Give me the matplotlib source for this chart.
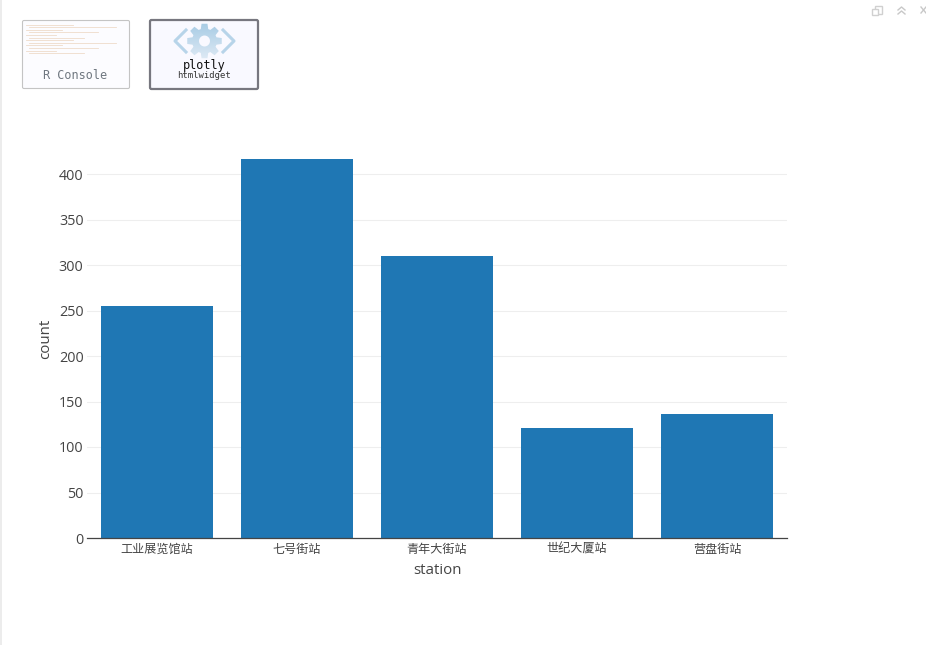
import numpy as np
import matplotlib
matplotlib.use('Agg')
import matplotlib.pyplot as plt
from matplotlib.patches import FancyBboxPatch, PathPatch, Rectangle
from matplotlib.path import Path

plt.rcParams['font.family'] = ['Open Sans', 'Noto Sans CJK SC', 'DejaVu Sans']

W, H = 926, 645

# Chart data
stations = ['工业展览馆站', '七号街站', '青年大街站', '世纪大厦站', '营盘街站']
counts = [255, 417, 310, 121, 136.5]
y_ticks = [0, 50, 100, 150, 200, 250, 300, 350, 400]

text_color = '#444444'
bar_color = '#1f77b4'

fig = plt.figure(figsize=(W / 100, H / 100), dpi=100, facecolor='white')


# Plot area in pixels: x 87-787, y 140-538
ax = fig.add_axes([87 / W, 1 - 538 / H, 700 / W, 398 / H])
ax.bar(range(len(stations)), counts, width=0.8, color=bar_color, zorder=3)
ax.set_xlim(-0.5, 4.5)
ax.set_ylim(0, 398 / 0.91)

ax.set_yticks(y_ticks)
ax.set_xticks(range(len(stations)))
ax.set_xticklabels(stations, fontsize=8.7, color=text_color)
ax.tick_params(axis='x', length=0, pad=3.5)
ax.tick_params(axis='y', length=0, pad=2.5, labelsize=10.4, labelcolor=text_color)
ax.grid(axis='y', color='#eeeeee', linewidth=0.75, zorder=0)
ax.set_axisbelow(True)
ax.set_xlabel('station', fontsize=10.8, color=text_color, labelpad=5.5)
ax.set_ylabel('count', fontsize=10.8, color=text_color, labelpad=4)
for side in ['top', 'right', 'left']:
    ax.spines[side].set_visible(False)
ax.spines['bottom'].set_color(text_color)
ax.spines['bottom'].set_linewidth(0.9)
ax.spines['bottom'].set_zorder(4)

# RStudio viewer chrome, drawn in pixel coordinates
chrome = fig.add_axes([0, 0, 1, 1], zorder=5)
chrome.set_xlim(0, W)
chrome.set_ylim(H, 0)
chrome.axis('off')
chrome.patch.set_alpha(0)

chrome.add_patch(Rectangle((0, 0), 2, H, color='#ececec', lw=0))

# R Console thumbnail
chrome.add_patch(FancyBboxPatch((22.5, 20.5), 107, 68, boxstyle='round,pad=0,rounding_size=1.5',
                                fc='#fcfcff', ec='#c4c4c4', lw=0.8))
log_lines = [(26, 73), (29, 116), (26, 62), (29, 98), (26, 56), (29, 84),
             (26, 73), (29, 116), (26, 62), (29, 98), (26, 56), (29, 84)]
for i, (x0, x1) in enumerate(log_lines):
    chrome.plot([x0, x1], [24.5 + i * 2.6, 24.5 + i * 2.6], color='#e8cdb4', lw=0.6, alpha=0.7)
chrome.text(75, 75.5, 'R Console', family='DejaVu Sans Mono', fontsize=8.5,
            color='#6f7780', ha='center', va='center')

# plotly htmlwidget thumbnail
chrome.add_patch(FancyBboxPatch((150, 20), 108, 69, boxstyle='round,pad=0,rounding_size=1.5',
                                fc='#f9f9ff', ec='#77777f', lw=1.6))

# gear outline: eight teeth around a centre hole, filled with a vertical fade
cx, cy = 204.5, 41
verts = []
for k in range(8):
    a = k * np.pi / 4
    for da, r in [(-0.30, 12.5), (-0.17, 17.5), (0.17, 17.5), (0.30, 12.5)]:
        verts.append((cx + r * np.cos(a + da), cy + r * np.sin(a + da)))
verts.append(verts[0])
hole = [(cx + 5.5 * np.cos(t), cy + 5.5 * np.sin(t)) for t in np.linspace(0, -2 * np.pi, 25)]
codes = [Path.MOVETO] + [Path.LINETO] * (len(verts) - 2) + [Path.CLOSEPOLY]
codes += [Path.MOVETO] + [Path.LINETO] * (len(hole) - 2) + [Path.CLOSEPOLY]
gear = PathPatch(Path(verts + hole, codes), fc='none', ec='none')
chrome.add_patch(gear)
fade = np.linspace(0, 1, 40).reshape(-1, 1)
img = chrome.imshow(fade, extent=(180, 230, 60, 22), aspect='auto', zorder=3,
                    cmap=matplotlib.colors.LinearSegmentedColormap.from_list(
                        'fade', ['#a6cbe4', '#dfeaf5']), clip_path=gear)
img.set_clip_path(gear)
chrome.set_xlim(0, W)
chrome.set_ylim(H, 0)

chrome.plot([186, 175, 186], [30, 41, 52], color='#b7d4e9', lw=2.2)
chrome.plot([223, 234, 223], [30, 41, 52], color='#b7d4e9', lw=2.2)
chrome.text(204, 65.5, 'plotly', family='DejaVu Sans Mono', fontsize=8.6, color='#111111',
            ha='center', va='center')
chrome.text(204, 76, 'htmlwidget', family='DejaVu Sans Mono', fontsize=6.4, color='#333333',
            ha='center', va='center')

# Top right window buttons
chrome.add_patch(Rectangle((874.5, 5.5), 7, 8, fc='white', ec='#d0d0d0', lw=1))
chrome.add_patch(Rectangle((871.5, 8.5), 6, 6, fc='white', ec='#d0d0d0', lw=1))
chrome.plot([898, 901.5, 905], [10, 7, 10], color='#c8c8c8', lw=1)
chrome.plot([898, 901.5, 905], [14, 11, 14], color='#c8c8c8', lw=1)
chrome.plot([921, 926], [7, 13], color='#c8c8c8', lw=1)
chrome.plot([921, 926], [13, 7], color='#c8c8c8', lw=1)

fig.savefig('out.png', dpi=100)
plt.close(fig)
